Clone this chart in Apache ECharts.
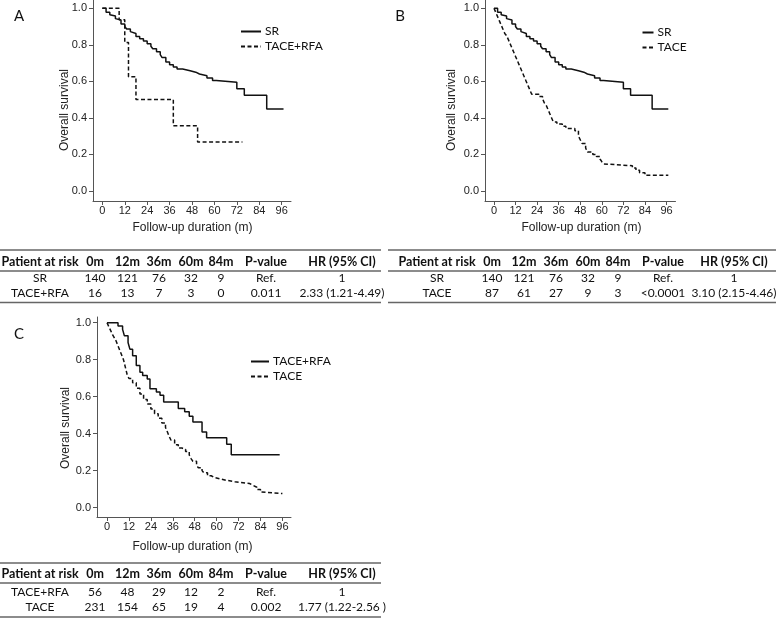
<!DOCTYPE html>
<html>
<head>
<meta charset="utf-8">
<script src="https://cdn.jsdelivr.net/npm/echarts@6/dist/echarts.min.js"></script>
<style>html,body{margin:0;padding:0;background:#fff;}#c{width:778px;height:619px;}</style>
</head>
<body>
<div id="c"></div>
<script>
// ---------- data ----------
const xTicks = [0, 12, 24, 36, 48, 60, 72, 84, 96];
const yTicks = [0, 0.2, 0.4, 0.6, 0.8, 1.0];

// Panel A / B : SR (solid)
const srCurve = [[0,1],[2,0.978],[4,0.964],[5,0.957],[7,0.943],[8,0.936],[10,0.914],[12,0.9],[13,0.886],[15,0.872],[16,0.862],[18,0.845],[20,0.833],[22,0.82],[24,0.806],[26,0.792],[27,0.778],[29,0.762],[31,0.746],[32,0.73],[34,0.706],[36,0.69],[38,0.678],[40,0.667],[43,0.658],[47,0.65],[50,0.64],[52,0.631],[56,0.618],[59,0.605],[61,0.595],[72,0.559],[76,0.524],[88,0.449],[97,0.449]];
// Panel A : TACE+RFA (dashed)
const tacerfaCurveA = [[0,1],[9,0.9375],[12,0.8125],[14,0.625],[18,0.5],[38,0.357],[51,0.268],[75,0.268]];
// Panel B : TACE (dashed)
const taceCurveB = [[0,1],[1,0.977],[2,0.954],[3,0.931],[4,0.908],[5,0.885],[6,0.862],[7,0.85],[8,0.828],[9,0.805],[10,0.782],[11,0.759],[12,0.736],[13,0.713],[14,0.69],[15,0.667],[16,0.644],[17,0.621],[18,0.598],[19,0.575],[20,0.552],[21,0.529],[25,0.517],[27,0.505],[28,0.482],[29,0.47],[30,0.447],[31,0.424],[32,0.401],[33,0.378],[35,0.366],[38,0.354],[40,0.342],[45,0.33],[47,0.3],[48,0.28],[49,0.26],[51,0.235],[52,0.213],[55,0.2],[57,0.188],[59,0.175],[60,0.16],[61,0.148],[62,0.138],[77,0.126],[79,0.113],[81,0.1],[84,0.086],[97,0.086]];
// Panel C : TACE+RFA (solid)
const tacerfaCurveC = [[0,1],[6,0.982],[8.5,0.964],[9.5,0.929],[11.5,0.893],[12.5,0.857],[14,0.821],[16,0.768],[18,0.732],[19.5,0.714],[22,0.696],[23.5,0.643],[27,0.625],[29,0.607],[31,0.571],[39,0.536],[42.5,0.518],[45,0.494],[47,0.463],[52,0.409],[54.5,0.378],[65.5,0.343],[68,0.286],[94.5,0.286]];
// Panel C : TACE (dashed)
const taceCurveC = [[0,1],[1,0.978],[2,0.957],[3,0.935],[4,0.918],[5,0.9],[6,0.875],[7,0.85],[8,0.825],[9,0.8],[10,0.76],[11,0.72],[12,0.698],[14,0.675],[16,0.645],[18,0.615],[20,0.585],[22,0.56],[24,0.533],[26,0.508],[28,0.483],[30,0.458],[32,0.433],[33,0.41],[34,0.385],[35,0.365],[37,0.34],[39,0.322],[41,0.315],[43,0.303],[45,0.285],[46,0.265],[47,0.25],[49,0.228],[50,0.215],[52,0.2],[53,0.188],[55,0.172],[57,0.162],[59,0.155],[62,0.148],[65,0.14],[70,0.132],[76,0.13],[78,0.12],[80,0.11],[82,0.098],[84,0.085],[85,0.076],[96,0.076]];

const panelLabels = ['A', 'B', 'C'];
const legendA = ['SR', 'TACE+RFA'];
const legendB = ['SR', 'TACE'];
const legendC = ['TACE+RFA', 'TACE'];
const xAxisTitle = 'Follow-up duration (m)';
const yAxisTitle = 'Overall survival';

const tableHeader = ['Patient at risk', '0m', '12m', '36m', '60m', '84m', 'P-value', 'HR (95% CI)'];
const tableA = [['SR','140','121','76','32','9','Ref.','1'], ['TACE+RFA','16','13','7','3','0','0.011','2.33 (1.21-4.49)']];
const tableB = [['SR','140','121','76','32','9','Ref.','1'], ['TACE','87','61','27','9','3','<0.0001','3.10 (2.15-4.46)']];
const tableC = [['TACE+RFA','56','48','29','12','2','Ref.','1'], ['TACE','231','154','65','19','4','0.002','1.77 (1.22-2.56 )']];

// ---------- layout / style ----------
const AX = '#555';
const ARIAL = '"Liberation Sans", Arial, sans-serif';
const CAL = 'Lato, "Open Sans", sans-serif';

function xAx(gi, min, max) {
  return {
    type: 'value', gridIndex: gi, min: min, max: max,
    axisLine: {show: true, onZero: false, lineStyle: {color: AX, width: 1}},
    axisTick: {show: true, length: 4, customValues: xTicks, lineStyle: {color: AX}},
    axisLabel: {customValues: xTicks, color: '#222', fontFamily: ARIAL, fontSize: 11, margin: 4},
    splitLine: {show: false}
  };
}
function yAx(gi, min, max) {
  return {
    type: 'value', gridIndex: gi, min: min, max: max,
    axisLine: {show: true, onZero: false, lineStyle: {color: AX, width: 1}},
    axisTick: {show: true, length: 4, customValues: yTicks, lineStyle: {color: AX}},
    axisLabel: {customValues: yTicks, color: '#222', fontFamily: ARIAL, fontSize: 11, margin: 6,
      formatter: v => v.toFixed(1)},
    splitLine: {show: false}
  };
}
function km(name, idx, data, dashed) {
  return {
    name: name, type: 'line', step: 'end', xAxisIndex: idx, yAxisIndex: idx,
    data: data, symbol: 'none', showSymbol: false, silent: true, animation: false,
    lineStyle: {color: '#111', width: 1.5, type: dashed ? [4, 2.5] : 'solid'},
    itemStyle: {color: '#111'}
  };
}
function leg(names, suffix, left, top, w) {
  return {
    orient: 'vertical', left: left, top: top, itemWidth: w, itemHeight: 8, itemGap: 3,
    data: names.map(n => n + suffix), selectedMode: false,
    itemStyle: {opacity: 0},
    formatter: n => n.slice(0, n.length - suffix.length),
    textStyle: {fontFamily: CAL, fontSize: 12, color: '#111', padding: [0, 0, 0, -1]}
  };
}

const graphics = [];
function txt(s, x, y, opt) {
  graphics.push(Object.assign({type: 'text', silent: true, style: Object.assign({
    text: s, x: 0, y: 0, textAlign: 'center', textVerticalAlign: 'middle',
    fill: '#111', font: '12px ' + CAL}, opt && opt.style || {})},
    {x: x, y: y, rotation: opt && opt.rotation || 0}));
}
function hline(x1, x2, y) {
  graphics.push({type: 'line', silent: true, shape: {x1: x1, y1: y, x2: x2, y2: y},
    style: {stroke: '#666', lineWidth: 1.5}});
}
function table(rows, cols, x1, x2, yTop, yHead, yMid, yR1, yR2, yBot) {
  hline(x1, x2, yTop); hline(x1, x2, yMid); hline(x1, x2, yBot);
  tableHeader.forEach((h, i) => txt(h, cols[i], yHead, {style: {font: 'bold 12.5px ' + CAL}}));
  [yR1, yR2].forEach((yy, r) => rows[r].forEach((v, i) => txt(v, cols[i], yy, {style: {font: '12px ' + CAL}})));
}
const colA = [40, 95, 127.5, 159, 191, 221, 266, 342];
const colB = [437, 492, 524, 556, 588, 618, 663, 734];
// panel letters
txt(panelLabels[0], 19, 16, {style: {font: '15px ' + CAL}});
txt(panelLabels[1], 400, 16, {style: {font: '15px ' + CAL}});
txt(panelLabels[2], 19, 334, {style: {font: '15px ' + CAL}});
// axis titles
const yt = {font: '12px ' + ARIAL, fill: '#222'};
txt(yAxisTitle, 65, 110, {rotation: Math.PI / 2, style: yt});
txt(yAxisTitle, 452, 110, {rotation: Math.PI / 2, style: yt});
txt(yAxisTitle, 66, 428, {rotation: Math.PI / 2, style: yt});
txt(xAxisTitle, 192.5, 228, {style: yt});
txt(xAxisTitle, 581.5, 228, {style: yt});
txt(xAxisTitle, 192.5, 546.5, {style: yt});
// tables
table(tableA, colA, 0, 381, 250, 261.5, 271, 278.5, 293, 302.5);
table(tableB, colB, 388, 776, 250, 261.5, 271, 278.5, 293, 302.5);
table(tableC, colA, 0, 381, 563, 574, 583, 592, 607, 617);

const option = {
  animation: false,
  backgroundColor: '#fff',
  grid: [
    {left: 93, top: 0, width: 198, height: 201},
    {left: 485, top: 0, width: 190.5, height: 201},
    {left: 97, top: 317, width: 194, height: 200}
  ],
  xAxis: [xAx(0, -5, 101), xAx(1, -5, 101), xAx(2, -5.5, 100.7)],
  yAxis: [yAx(0, -0.055, 1.045), yAx(1, -0.055, 1.045), yAx(2, -0.051, 1.031)],
  legend: [
    leg(legendA, ' (A)', 235, 20.5, 20),
    leg(legendB, ' (B)', 636.5, 21.5, 11),
    leg(legendC, ' (C)', 245, 350.5, 18)
  ],
  series: [
    km('SR (A)', 0, srCurve, false),
    km('TACE+RFA (A)', 0, tacerfaCurveA, true),
    km('SR (B)', 1, srCurve, false),
    km('TACE (B)', 1, taceCurveB, true),
    km('TACE+RFA (C)', 2, tacerfaCurveC, false),
    km('TACE (C)', 2, taceCurveC, true)
  ],
  graphic: graphics
};
const chart = echarts.init(document.getElementById('c'), null, {renderer: 'canvas'});
chart.setOption(option);
</script>
</body>
</html>
